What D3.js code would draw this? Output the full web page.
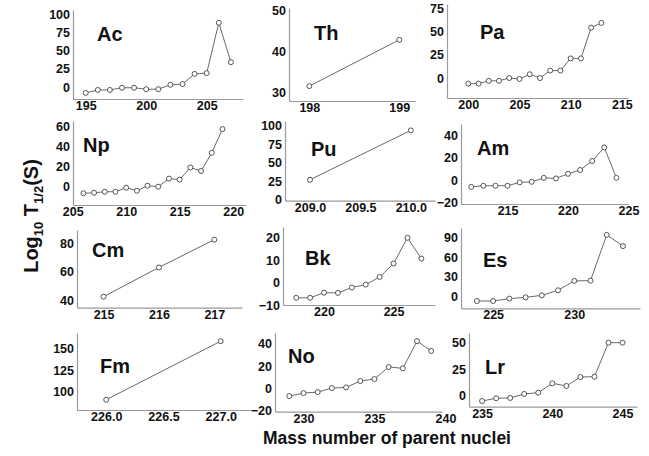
<!DOCTYPE html>
<html>
<head>
<meta charset="utf-8">
<script src="https://cdn.jsdelivr.net/npm/d3@7"></script>
<style>
  body { margin:0; background:#fff; }
  svg { display:block; font-family:"Liberation Sans", Arial, sans-serif; }
  .tick text { font-weight:bold; font-size:12.5px; fill:#111; }
  .domain { stroke:#9a9a9a; stroke-width:1.2px; }
  .el { font-weight:bold; font-size:20px; fill:#111; }
  .ttl { font-weight:bold; fill:#111; }
</style>
</head>
<body>
<div id="grafico"></div>
<script>
// elementos y datos (log10 T1/2 en segundos)
const elements = ["Ac","Th","Pa","Np","Pu","Am","Cm","Bk","Es","Fm","No","Lr"];

const massNumbers = [
  [195,196,197,198,199,200,201,202,203,204,205,206,207],
  [198,199],
  [200,201,202,203,204,205,206,207,208,209,210,211,212,213],
  [206,207,208,209,210,211,212,213,214,215,216,217,218,219],
  [209,210],
  [212,213,214,215,216,217,218,219,220,221,222,223,224],
  [215,216,217],
  [218,219,220,221,222,223,224,225,226,227],
  [224,225,226,227,228,229,230,231,232,233],
  [226,227],
  [229,230,231,232,233,234,235,236,237,238,239],
  [235,236,237,238,239,240,241,242,243,244,245]
];

const logHalfLives = [
  [-8,-4,-4,-1,-1,-3,-3,3,4,18,19,88,34],
  [31.6,42.8],
  [-6,-6,-3,-3,0,-1,4,0,8,8,21,21,54,59],
  [-6.5,-6,-5,-5,-1,-4,1,0,8,7,19,15.5,33.5,57],
  [27.3,94],
  [-6,-5,-5,-5,-2,-1.5,2,1.5,5.6,9,17,29,2],
  [42.4,63,82.6],
  [-6.8,-6.8,-4.5,-4.6,-2.2,-0.9,2.5,8.5,20,10.7],
  [-6.6,-6.6,-3,-1,2,9.7,24,24.4,94,77],
  [90.8,158.5],
  [-6.9,-4.2,-3.3,0.3,0.9,6.6,8.4,19.2,18,42.4,33.6],
  [-5.4,-2.8,-2.5,1.3,2.5,11.4,8.9,17.4,17.7,50,50]
];

const xTickValues = [
  [195,200,205],[198,199],[200,205,210,215],
  [205,210,215,220],[209.0,209.5,210.0],[215,220,225],
  [215,216,217],[220,225],[225,230],
  [226.0,226.5,227.0],[230,235,240],[235,240,245]
];

const yTickValues = [
  [0,25,50,75,100],[30,40,50],[0,25,50,75],
  [0,20,40,60],[0,25,50,75,100],[-20,0,20,40],
  [40,60,80],[-10,0,10,20],[0,30,60,90],
  [100,125,150],[-20,0,20,40],[0,25,50]
];

// caja de cada panel [izq, arriba, der, abajo], dominios y posicion de la etiqueta
const layout = [
  {box:[73,10,243,99],      xd:[193.95,208.0],  yd:[-16.4,105.5], lab:[97,41]},
  {box:[289,8,415,101],     xd:[197.774,199.175], yd:[28,50.5],   lab:[314,40]},
  {box:[447,4,628,98],      xd:[197.92,215.6],  yd:[-21.4,79.3],  lab:[480,39]},
  {box:[73,121,246,205],    xd:[205.03,221.2],  yd:[-18.1,65],    lab:[83,152]},
  {box:[285,121,435,200.7], xd:[208.752,210.24], yd:[-1,106.7],   lab:[311,156]},
  {box:[461,124,628,204],   xd:[211.15,224.96], yd:[-21.2,49.8],  lab:[477,155]},
  {box:[77,230,242,307.7],  xd:[214.52,217.5],  yd:[34.6,89.4],   lab:[92,257]},
  {box:[283,227,435,305],   xd:[217.05,227.98], yd:[-10,24.8],    lab:[305,265]},
  {box:[461,228,640,308.3], xd:[223.02,234.05], yd:[-17.7,104.5], lab:[483,267]},
  {box:[77,333,250,410],    xd:[225.745,227.256], yd:[78.9,168],  lab:[100,373]},
  {box:[275,333,442,411.7], xd:[227.99,239.76], yd:[-20.9,49.7],  lab:[288,363]},
  {box:[469,333,637,406.7], xd:[234.07,246.03], yd:[-10.8,59.2],  lab:[485,374]}
];

const W = 649, H = 456;

let svg = d3.select("#grafico").append("svg")
  .attr("width", W).attr("height", H);

elements.forEach((el, i) => {
  const L = layout[i];
  const [x0, y0, x1, y1] = L.box;
  const decimals = xTickValues[i].some(v => v % 1 !== 0);

  let x = d3.scaleLinear().domain(L.xd).range([x0, x1]);
  let y = d3.scaleLinear().domain(L.yd).range([y1, y0]);

  let g = svg.append("g").attr("class", "panel");

  g.append("g")
    .attr("transform", `translate(0,${y1})`)
    .call(d3.axisBottom(x).tickValues(xTickValues[i]).tickSize(0).tickSizeOuter(0).tickPadding(2)
      .tickFormat(decimals ? d3.format(".1f") : d3.format("d")))
    .call(a => a.attr("font-size", null).attr("font-family", null));

  g.append("g")
    .attr("transform", `translate(${x0},0)`)
    .call(d3.axisLeft(y).tickValues(yTickValues[i]).tickSize(0).tickSizeOuter(0).tickPadding(3)
      .tickFormat(d3.format("d")))
    .call(a => a.attr("font-size", null).attr("font-family", null));

  const pts = massNumbers[i].map((m, k) => ({m: m, v: logHalfLives[i][k]}));

  g.append("path")
    .datum(pts)
    .attr("fill", "none")
    .attr("stroke", "#6a6a6a")
    .attr("stroke-width", 1)
    .attr("d", d3.line().x(d => x(d.m)).y(d => y(d.v)));

  g.selectAll("circle")
    .data(pts)
    .enter()
    .append("circle")
      .attr("cx", d => x(d.m))
      .attr("cy", d => y(d.v))
      .attr("r", 2.5)
      .attr("fill", "#fff")
      .attr("stroke", "#444")
      .attr("stroke-width", 0.9);

  g.append("text")
    .attr("class", "el")
    .attr("x", L.lab[0])
    .attr("y", L.lab[1])
    .text(el);
});

// titulos de ejes
svg.append("text")
  .attr("class", "ttl")
  .attr("font-size", "17.5px")
  .attr("x", 387)
  .attr("y", 444)
  .attr("text-anchor", "middle")
  .text("Mass number of parent nuclei");

let yl = svg.append("text")
  .attr("class", "ttl")
  .attr("font-size", "20px")
  .attr("transform", "translate(38,216) rotate(-90)")
  .attr("text-anchor", "middle");
yl.append("tspan").text("Log");
yl.append("tspan").attr("font-size", "13px").attr("dy", 5).text("10");
yl.append("tspan").attr("dy", -5).text(" T");
yl.append("tspan").attr("font-size", "13px").attr("dy", 5).text("1/2");
yl.append("tspan").attr("dy", -5).text("(S)");
</script>
</body>
</html>
